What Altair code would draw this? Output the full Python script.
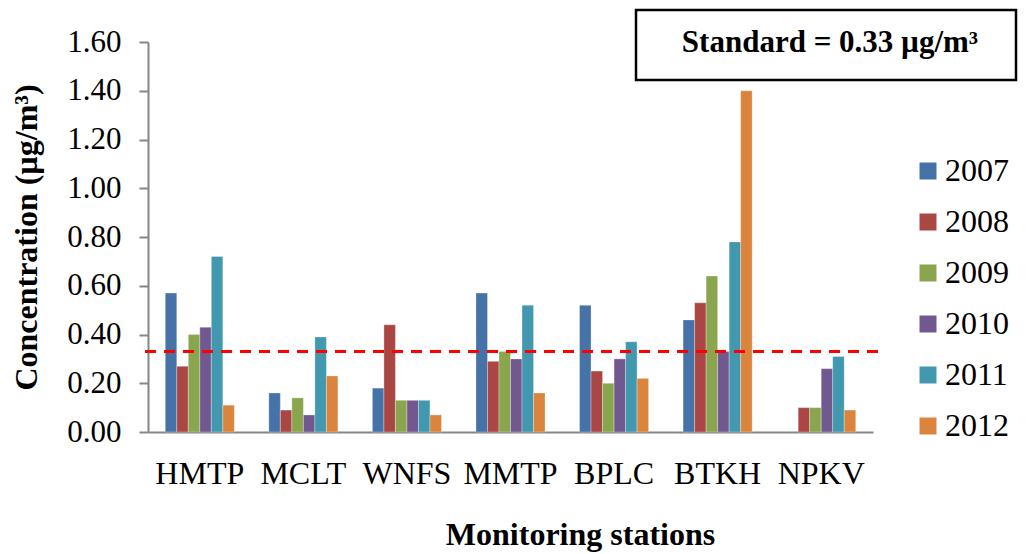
import altair as alt
import pandas as pd

stations = ["HMTP", "MCLT", "WNFS", "MMTP", "BPLC", "BTKH", "NPKV"]
years = ["2007", "2008", "2009", "2010", "2011", "2012"]
colors = ["#4572A7", "#AA4643", "#89A54E", "#71588F", "#4198AF", "#DB843D"]

v2007 = [0.57, 0.16, 0.18, 0.57, 0.52, 0.46, None]
v2008 = [0.27, 0.09, 0.44, 0.29, 0.25, 0.53, 0.10]
v2009 = [0.40, 0.14, 0.13, 0.33, 0.20, 0.64, 0.10]
v2010 = [0.43, 0.07, 0.13, 0.30, 0.30, 0.33, 0.26]
v2011 = [0.72, 0.39, 0.13, 0.52, 0.37, 0.78, 0.31]
v2012 = [0.11, 0.23, 0.07, 0.16, 0.22, 1.40, 0.09]

standard = [0.33]
y_ticks = [0.0, 0.2, 0.4, 0.6, 0.8, 1.0, 1.2, 1.4, 1.6]
annotation = ["Standard = 0.33 \u00b5g/m\u00b3"]

series = [v2007, v2008, v2009, v2010, v2011, v2012]
rows = []
for yr, vals in zip(years, series):
    for st, v in zip(stations, vals):
        if v is not None:
            rows.append({"station": st, "year": yr, "value": v})
df = pd.DataFrame(rows)

FONT = "Liberation Serif"

bars = alt.Chart(df).mark_bar(stroke="white", strokeWidth=0.6, strokeOpacity=0.5).encode(
    x=alt.X(
        "station:N",
        sort=stations,
        scale=alt.Scale(paddingInner=0.333, paddingOuter=0.1667),
        axis=alt.Axis(
            title="Monitoring stations",
            labelAngle=0,
            labelFont=FONT,
            labelFontSize=32,
            labelColor="black",
            labelPadding=26,
            ticks=False,
            domainColor="#868686",
            domainWidth=2,
            titleFont=FONT,
            titleFontSize=32,
            titleFontWeight="bold",
            titleColor="black",
            titleX=432,
            titleY=112,
            titleAlign="center",
            titleBaseline="alphabetic",
        ),
    ),
    xOffset=alt.XOffset("year:N", sort=years, scale=alt.Scale(paddingInner=0, paddingOuter=0)),
    y=alt.Y(
        "value:Q",
        scale=alt.Scale(domain=[0, 1.6], nice=False),
        axis=alt.Axis(
            title="Concentration (\u00b5g/m\u00b3)",
            values=y_ticks,
            format=".2f",
            grid=False,
            labelFont=FONT,
            labelFontSize=31,
            labelColor="black",
            labelPadding=18,
            tickSize=9,
            tickColor="#868686",
            tickWidth=2,
            domainColor="#868686",
            domainWidth=2,
            titleFont=FONT,
            titleFontSize=32,
            titleFontWeight="bold",
            titleColor="black",
            titleAngle=270,
            titleX=-112,
            titleY=195,
            titleAlign="center",
            titleBaseline="alphabetic",
        ),
    ),
    color=alt.Color(
        "year:N",
        sort=years,
        scale=alt.Scale(domain=years, range=colors),
        legend=alt.Legend(
            title=None,
            orient="none",
            legendX=764,
            legendY=113,
            symbolType="square",
            symbolSize=289,
            symbolStrokeWidth=0,
            labelFont=FONT,
            labelFontSize=32,
            labelColor="black",
            rowPadding=19,
            labelOffset=1,
            padding=0,
        ),
    ),
)

rule = alt.Chart(pd.DataFrame({"standard": standard})).mark_rule(
    color="#FF0000", strokeWidth=3, strokeDash=[11, 8]
).encode(
    y="standard:Q",
    x=alt.value(-3),
    x2=alt.value(736),
)

ann_df = pd.DataFrame({"label": annotation})
box = alt.Chart(ann_df).mark_rect(fill="white", stroke="black", strokeWidth=2.5).encode(
    x=alt.value(488), x2=alt.value(868), y=alt.value(-32), y2=alt.value(38)
)
text = alt.Chart(ann_df).mark_text(
    font=FONT, fontSize=31, fontWeight="bold", color="black", align="center", baseline="alphabetic"
).encode(x=alt.value(682), y=alt.value(10), text="label:N")

chart = (
    alt.layer(bars, rule, box, text)
    .properties(
        width=725,
        height=390,
        autosize=alt.AutoSizeParams(type="none"),
        padding={"left": 148, "top": 42, "right": 155, "bottom": 122},
        background="white",
    )
    .configure_view(stroke=None)
)

chart.save("out.html", embed_options={"renderer": "svg", "actions": False})
